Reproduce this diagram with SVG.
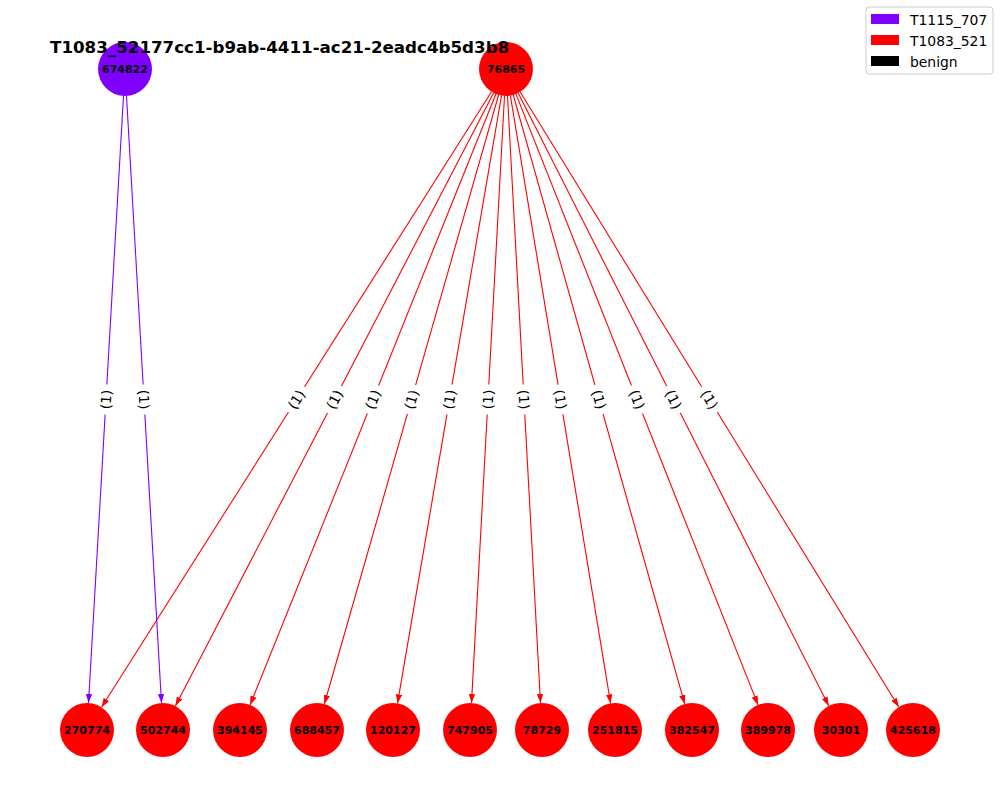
<svg xmlns="http://www.w3.org/2000/svg" width="1000" height="800" viewBox="0 0 1000 800">
  <style>
    text { font-family: "DejaVu Sans", "Liberation Sans", sans-serif; }
    .node-label { font-size: 11px; font-weight: bold; fill: #000; text-anchor: middle; dominant-baseline: central; }
    .edge-label { font-size: 13.9px; fill: #000; text-anchor: middle; dominant-baseline: central; }
    .title { font-size: 16.7px; font-weight: bold; fill: #000; }
    .legend-text { font-size: 13.9px; fill: #000; }
    .e-purple { stroke: #7f00ff; stroke-width: 1.1; fill: none; marker-end: url(#arrow-purple); }
    .e-red { stroke: #ff0000; stroke-width: 1.1; fill: none; marker-end: url(#arrow-red); }
    .n-purple { fill: #7f00ff; }
    .n-red { fill: #ff0000; }
    .lbl-bg { fill: #ffffff; }
  </style>
  <defs>
    <marker id="arrow-purple" viewBox="0 0 10 7" refX="10" refY="3.5" markerWidth="9" markerHeight="6.5" markerUnits="userSpaceOnUse" orient="auto">
      <path d="M0,0 L10,3.5 L0,7 z" fill="#7f00ff"/>
    </marker>
    <marker id="arrow-red" viewBox="0 0 10 7" refX="10" refY="3.5" markerWidth="9" markerHeight="6.5" markerUnits="userSpaceOnUse" orient="auto">
      <path d="M0,0 L10,3.5 L0,7 z" fill="#ff0000"/>
    </marker>
  </defs>
  <rect width="1000" height="800" fill="#ffffff"/>

  <!-- connectors -->
  <g id="edges">
    <line class="e-purple" x1="123.5" y1="96" x2="88.5" y2="703"/>
    <line class="e-purple" x1="126.5" y1="96" x2="161.5" y2="703"/>
    <line class="e-red" x1="491.5" y1="91.8" x2="101.5" y2="707.2"/>
    <line class="e-red" x1="493.6" y1="93" x2="175.4" y2="706"/>
    <line class="e-red" x1="495.9" y1="94" x2="250.1" y2="705"/>
    <line class="e-red" x1="498.6" y1="95" x2="324.4" y2="704"/>
    <line class="e-red" x1="501.5" y1="95.6" x2="397.5" y2="703.4"/>
    <line class="e-red" x1="504.5" y1="96" x2="471.5" y2="703"/>
    <line class="e-red" x1="507.5" y1="96" x2="540.5" y2="703"/>
    <line class="e-red" x1="510.4" y1="95.6" x2="610.6" y2="703.4"/>
    <line class="e-red" x1="513.3" y1="95" x2="684.7" y2="704"/>
    <line class="e-red" x1="516" y1="94.1" x2="758" y2="704.9"/>
    <line class="e-red" x1="518.2" y1="93.1" x2="828.8" y2="705.9"/>
    <line class="e-red" x1="520.2" y1="92" x2="898.8" y2="707"/>
  </g>

  <!-- edge labels -->
  <g id="edge-labels">
    <g transform="translate(106,399.5) rotate(-86.7)"><rect class="lbl-bg" x="-15" y="-8" width="30" height="16"/><text class="edge-label">(1)</text></g>
    <g transform="translate(144,399.5) rotate(86.7)"><rect class="lbl-bg" x="-15" y="-8" width="30" height="16"/><text class="edge-label">(1)</text></g>
    <g transform="translate(296.5,399.5) rotate(-57.6)"><rect class="lbl-bg" x="-15" y="-8" width="30" height="16"/><text class="edge-label">(1)</text></g>
    <g transform="translate(334.5,399.5) rotate(-62.6)"><rect class="lbl-bg" x="-15" y="-8" width="30" height="16"/><text class="edge-label">(1)</text></g>
    <g transform="translate(373,399.5) rotate(-68.1)"><rect class="lbl-bg" x="-15" y="-8" width="30" height="16"/><text class="edge-label">(1)</text></g>
    <g transform="translate(411.5,399.5) rotate(-74)"><rect class="lbl-bg" x="-15" y="-8" width="30" height="16"/><text class="edge-label">(1)</text></g>
    <g transform="translate(449.5,399.5) rotate(-80.3)"><rect class="lbl-bg" x="-15" y="-8" width="30" height="16"/><text class="edge-label">(1)</text></g>
    <g transform="translate(488,399.5) rotate(-86.9)"><rect class="lbl-bg" x="-15" y="-8" width="30" height="16"/><text class="edge-label">(1)</text></g>
    <g transform="translate(524,399.5) rotate(86.9)"><rect class="lbl-bg" x="-15" y="-8" width="30" height="16"/><text class="edge-label">(1)</text></g>
    <g transform="translate(560.5,399.5) rotate(80.6)"><rect class="lbl-bg" x="-15" y="-8" width="30" height="16"/><text class="edge-label">(1)</text></g>
    <g transform="translate(599,399.5) rotate(74.3)"><rect class="lbl-bg" x="-15" y="-8" width="30" height="16"/><text class="edge-label">(1)</text></g>
    <g transform="translate(637,399.5) rotate(68.4)"><rect class="lbl-bg" x="-15" y="-8" width="30" height="16"/><text class="edge-label">(1)</text></g>
    <g transform="translate(673.5,399.5) rotate(63.1)"><rect class="lbl-bg" x="-15" y="-8" width="30" height="16"/><text class="edge-label">(1)</text></g>
    <g transform="translate(709.5,399.5) rotate(58.4)"><rect class="lbl-bg" x="-15" y="-8" width="30" height="16"/><text class="edge-label">(1)</text></g>
  </g>

  <!-- nodes -->
  <g id="node-674822"><circle class="n-purple" cx="125" cy="69" r="27"/><text class="node-label" x="125" y="69">674822</text></g>
  <g id="node-76865"><circle class="n-red" cx="506" cy="69" r="27"/><text class="node-label" x="506" y="69">76865</text></g>
  <g id="node-270774"><circle class="n-red" cx="87" cy="730" r="27"/><text class="node-label" x="87" y="730">270774</text></g>
  <g id="node-502744"><circle class="n-red" cx="163" cy="730" r="27"/><text class="node-label" x="163" y="730">502744</text></g>
  <g id="node-394145"><circle class="n-red" cx="240" cy="730" r="27"/><text class="node-label" x="240" y="730">394145</text></g>
  <g id="node-688457"><circle class="n-red" cx="317" cy="730" r="27"/><text class="node-label" x="317" y="730">688457</text></g>
  <g id="node-120127"><circle class="n-red" cx="393" cy="730" r="27"/><text class="node-label" x="393" y="730">120127</text></g>
  <g id="node-747905"><circle class="n-red" cx="470" cy="730" r="27"/><text class="node-label" x="470" y="730">747905</text></g>
  <g id="node-78729"><circle class="n-red" cx="542" cy="730" r="27"/><text class="node-label" x="542" y="730">78729</text></g>
  <g id="node-251815"><circle class="n-red" cx="615" cy="730" r="27"/><text class="node-label" x="615" y="730">251815</text></g>
  <g id="node-382547"><circle class="n-red" cx="692" cy="730" r="27"/><text class="node-label" x="692" y="730">382547</text></g>
  <g id="node-389978"><circle class="n-red" cx="768" cy="730" r="27"/><text class="node-label" x="768" y="730">389978</text></g>
  <g id="node-30301"><circle class="n-red" cx="841" cy="730" r="27"/><text class="node-label" x="841" y="730">30301</text></g>
  <g id="node-425618"><circle class="n-red" cx="913" cy="730" r="27"/><text class="node-label" x="913" y="730">425618</text></g>

  <!-- title -->
  <text class="title" x="50" y="53">T1083_52177cc1-b9ab-4411-ac21-2eadc4b5d3b8</text>

  <!-- legend -->
  <g id="legend">
    <rect x="866" y="7" width="127" height="67" rx="3" fill="#ffffff" fill-opacity="0.8" stroke="#cccccc" stroke-width="1"/>
    <rect x="871" y="14" width="28" height="10" fill="#7f00ff"/>
    <text class="legend-text" x="910" y="25">T1115_707</text>
    <rect x="871" y="35" width="28" height="10" fill="#ff0000"/>
    <text class="legend-text" x="910" y="46">T1083_521</text>
    <rect x="871" y="56" width="28" height="10" fill="#000000"/>
    <text class="legend-text" x="910" y="66.5">benign</text>
  </g>
</svg>
